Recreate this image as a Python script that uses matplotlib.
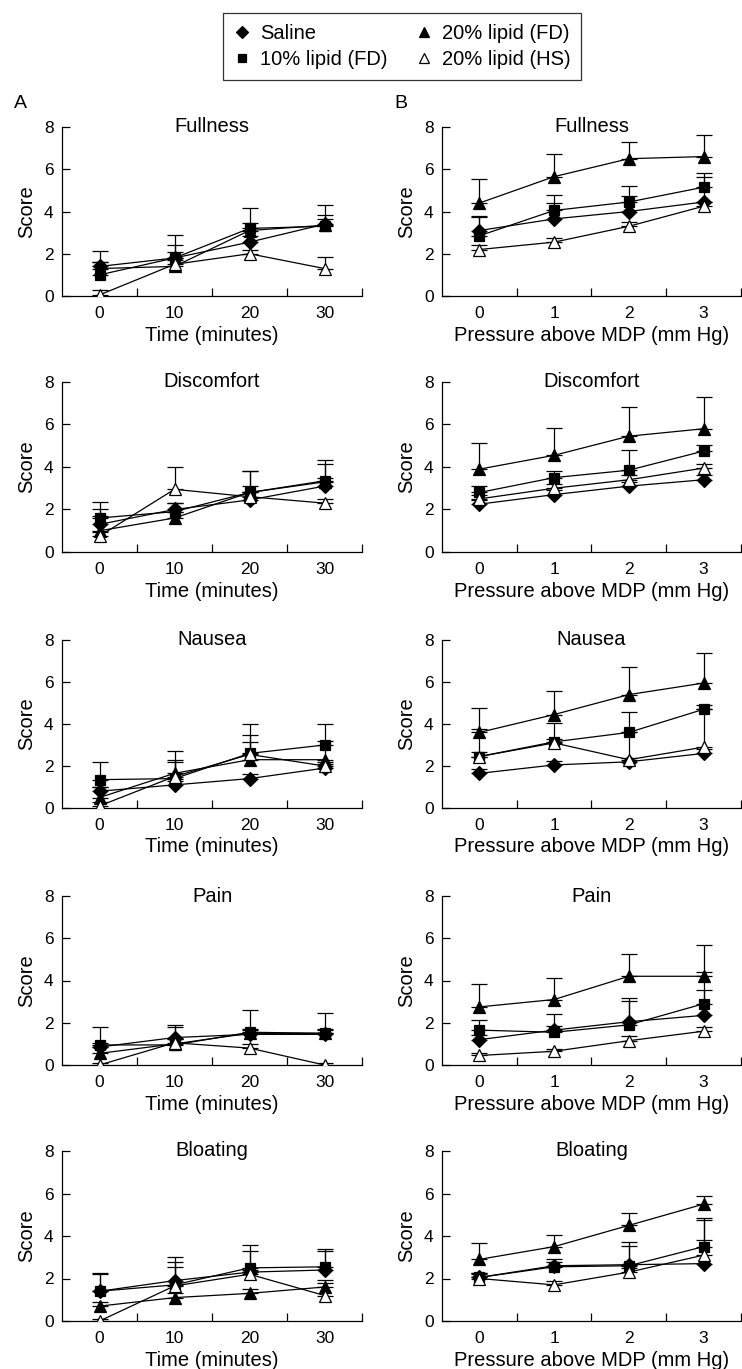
import numpy as np
import matplotlib
matplotlib.use('Agg')
import matplotlib.pyplot as plt
from matplotlib.lines import Line2D

plt.rcParams['font.family'] = ['Liberation Sans', 'DejaVu Sans']

time_labels = ['0', '10', '20', '30']
pressure_labels = ['0', '1', '2', '3']
symptoms = ['Fullness', 'Discomfort', 'Nausea', 'Pain', 'Bloating']
groups = ['Saline', '10% lipid (FD)', '20% lipid (FD)', '20% lipid (HS)']

# rows: saline, 10% lipid (FD), 20% lipid (FD), 20% lipid (HS)
# means and upper SEM
fullness_time = [[1.4, 1.8, 2.55, 3.4], [1.0, 1.8, 3.2, 3.3], [1.3, 1.4, 3.1, 3.35], [0.05, 1.5, 2.0, 1.3]]
fullness_time_sem = [[0.2, 0.6, 0.3, 0.9], [0.6, 1.1, 0.95, 0.55], [0.85, 0.7, 0.35, 0.3], [0.25, 0.2, 0.2, 0.55]]
discomfort_time = [[1.3, 2.0, 2.45, 3.1], [1.6, 1.9, 2.8, 3.35], [1.0, 1.6, 2.8, 3.3], [0.75, 2.95, 2.6, 2.3]]
discomfort_time_sem = [[0.7, 0.3, 0.65, 0.4], [0.75, 0.4, 1.0, 1.0], [0.7, 0.3, 1.0, 0.85], [0.2, 1.05, 0.2, 0.2]]
nausea_time = [[0.8, 1.1, 1.4, 1.9], [1.35, 1.4, 2.6, 3.0], [0.5, 1.65, 2.3, 2.3], [0.1, 1.5, 2.55, 2.0]]
nausea_time_sem = [[0.2, 0.2, 0.2, 0.2], [0.85, 0.9, 1.4, 1.0], [0.5, 1.05, 0.85, 0.9], [0.2, 0.7, 0.95, 0.2]]
pain_time = [[0.85, 1.3, 1.45, 1.45], [0.95, 0.95, 1.55, 1.5], [0.55, 1.0, 1.5, 1.5], [0.0, 1.05, 0.8, 0.0]]
pain_time_sem = [[0.2, 0.6, 0.2, 0.2], [0.85, 0.3, 1.05, 0.95], [0.3, 0.8, 0.2, 0.2], [0.1, 0.2, 0.2, 0.1]]
bloating_time = [[1.4, 1.9, 2.3, 2.4], [1.4, 1.7, 2.5, 2.55], [0.7, 1.1, 1.3, 1.6], [0.0, 1.65, 2.2, 1.2]]
bloating_time_sem = [[0.85, 0.9, 1.0, 0.9], [0.8, 1.3, 1.1, 0.85], [0.2, 0.2, 0.2, 0.2], [0.1, 0.9, 0.2, 0.75]]

fullness_press = [[3.1, 3.65, 4.0, 4.45], [2.85, 4.05, 4.45, 5.15], [4.4, 5.65, 6.5, 6.6], [2.2, 2.55, 3.3, 4.25]]
fullness_press_sem = [[0.65, 0.75, 0.75, 1.2], [0.95, 0.75, 0.75, 0.65], [1.15, 1.05, 0.8, 1.0], [0.2, 0.2, 0.2, 0.2]]
discomfort_press = [[2.25, 2.7, 3.1, 3.4], [2.8, 3.5, 3.85, 4.75], [3.9, 4.55, 5.45, 5.8], [2.5, 3.0, 3.4, 3.95]]
discomfort_press_sem = [[0.2, 0.2, 0.2, 0.2], [0.3, 0.3, 0.95, 0.3], [1.25, 1.3, 1.35, 1.5], [0.2, 0.2, 0.2, 0.2]]
nausea_press = [[1.65, 2.05, 2.2, 2.6], [2.45, 3.15, 3.6, 4.7], [3.6, 4.45, 5.4, 5.95], [2.45, 3.1, 2.3, 2.9]]
nausea_press_sem = [[0.2, 0.2, 0.2, 0.2], [1.3, 0.9, 0.95, 0.2], [1.15, 1.1, 1.3, 1.45], [0.2, 0.2, 1.3, 1.8]]
pain_press = [[1.2, 1.65, 2.05, 2.35], [1.65, 1.55, 1.9, 2.9], [2.75, 3.1, 4.2, 4.2], [0.45, 0.65, 1.15, 1.6]]
pain_press_sem = [[0.2, 0.75, 1.1, 1.2], [0.5, 0.3, 1.15, 1.5], [1.1, 1.0, 1.05, 1.5], [0.1, 0.1, 0.2, 0.2]]
bloating_press = [[2.05, 2.6, 2.65, 2.7], [2.05, 2.55, 2.6, 3.5], [2.9, 3.5, 4.5, 5.5], [2.0, 1.7, 2.3, 3.1]]
bloating_press_sem = [[0.2, 0.2, 0.9, 2.05], [0.2, 0.35, 1.1, 1.35], [0.75, 0.55, 0.6, 0.4], [0.2, 0.2, 0.2, 0.7]]

time_data = [(fullness_time, fullness_time_sem), (discomfort_time, discomfort_time_sem),
             (nausea_time, nausea_time_sem), (pain_time, pain_time_sem), (bloating_time, bloating_time_sem)]
press_data = [(fullness_press, fullness_press_sem), (discomfort_press, discomfort_press_sem),
              (nausea_press, nausea_press_sem), (pain_press, pain_press_sem), (bloating_press, bloating_press_sem)]

markers = ['D', 's', '^', '^']
faces = ['black', 'black', 'black', 'white']
msizes = [7, 7.5, 9, 9]
draw_order = [3, 0, 1, 2]  # open triangles underneath

W, H = 742, 1369
fig = plt.figure(figsize=(W / 100, H / 100), dpi=100)

row_top = [127, 382, 640, 896, 1151]
row_bot = [296, 552, 808, 1065, 1321]
col_left = [62, 442]
col_w = [300, 299]


def draw_panel(ax, means, sems, xlabels, xlabel, title):
    x = np.arange(len(xlabels))
    for i in draw_order:
        m = np.array(means[i])
        e = np.array(sems[i])
        ax.errorbar(x, m, yerr=[np.zeros_like(e), e], fmt='none', ecolor='black',
                    elinewidth=0.9, capsize=5.5, capthick=0.9, zorder=2 + i)
        ax.plot(x, m, color='black', lw=0.9, marker=markers[i], ms=msizes[i],
                mfc=faces[i], mec='black', mew=0.9, zorder=2 + i)
    ax.set_xlim(-0.5, 3.5)
    ax.set_ylim(0, 8)
    ax.set_xticks([0.5, 1.5, 2.5, 3.5])
    ax.set_xticklabels([])
    ax.set_xticks(x, minor=True)
    ax.set_xticklabels(xlabels, minor=True)
    ax.set_yticks([0, 2, 4, 6, 8])
    ax.tick_params(axis='x', which='major', direction='in', length=6, width=0.9)
    ax.tick_params(axis='x', which='minor', length=0, labelsize=12.5, pad=7)
    ax.tick_params(axis='y', direction='in', length=6, width=0.9, labelsize=12.5, pad=6)
    for s in ['top', 'right']:
        ax.spines[s].set_visible(False)
    for s in ['left', 'bottom']:
        ax.spines[s].set_linewidth(0.9)
    ax.set_ylabel('Score', fontsize=14.5)
    ax.yaxis.set_label_coords(-0.085, 0.5)
    ax.set_xlabel(xlabel, fontsize=14.5)
    ax.xaxis.set_label_coords(0.5, -0.175)
    ax.text(0.5, 1.0, title, transform=ax.transAxes, ha='center', va='center', fontsize=14.5)


for r in range(5):
    for c in range(2):
        left = col_left[c] / W
        bottom = 1 - row_bot[r] / H
        height = (row_bot[r] - row_top[r]) / H
        ax = fig.add_axes([left, bottom, col_w[c] / W, height])
        if c == 0:
            means, sems = time_data[r]
            draw_panel(ax, means, sems, time_labels, 'Time (minutes)', symptoms[r])
        else:
            means, sems = press_data[r]
            draw_panel(ax, means, sems, pressure_labels, 'Pressure above MDP (mm Hg)', symptoms[r])

fig.text(20 / W, 1 - 103 / H, 'A', fontsize=14, ha='center', va='center')
fig.text(401 / W, 1 - 103 / H, 'B', fontsize=14, ha='center', va='center')

handles = [Line2D([], [], ls='none', marker=markers[i], ms=msizes[i] * 0.85, mfc=faces[i],
                  mec='black', mew=0.9, color='black') for i in range(4)]
leg = fig.legend(handles, groups, ncol=2, loc='upper center', bbox_to_anchor=(402 / W, 1 - 13 / H),
                 fontsize=14.5, frameon=True, fancybox=False, edgecolor='black', handlelength=0.8,
                 handletextpad=0.5, columnspacing=1.4, labelspacing=0.35, borderpad=0.55,
                 borderaxespad=0)
leg.get_frame().set_linewidth(0.9)

fig.savefig('out.png', dpi=100)
